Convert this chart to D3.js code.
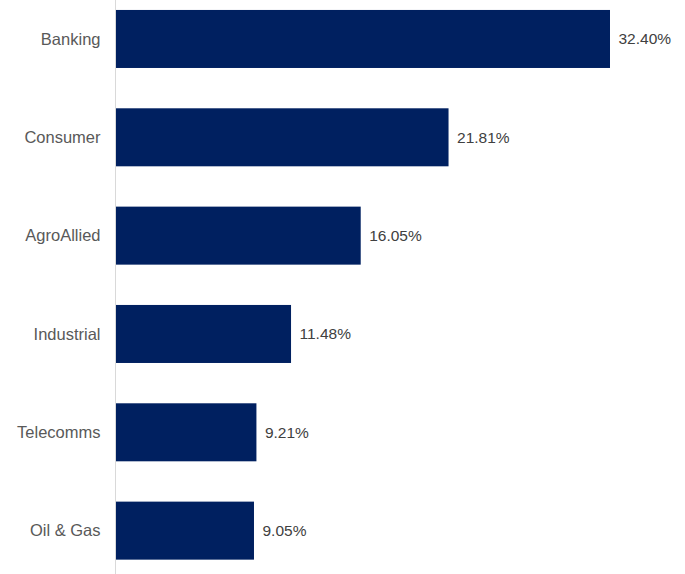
<!DOCTYPE html>
<html>
<head>
<meta charset="utf-8">
<script src="https://cdn.jsdelivr.net/npm/d3@7"></script>
<style>
  html, body { margin: 0; padding: 0; background: #fff; }
  svg { display: block; }
</style>
</head>
<body>
<div id="chart"></div>
<script>
// Sector weights (%)
const sectors = ["Banking", "Consumer", "AgroAllied", "Industrial", "Telecomms", "Oil & Gas"];
const weights = [32.40, 21.81, 16.05, 11.48, 9.21, 9.05];

const width = 685, height = 574;
const axisX = 116;

const svg = d3.select("#chart").append("svg")
  .attr("width", width)
  .attr("height", height)
  .style("font-family", "Arial, 'Liberation Sans', sans-serif");

const x = d3.scaleLinear()
  .domain([0, 32.40])
  .range([axisX, 610]);

const y = d3.scaleBand()
  .domain(sectors)
  .range([-10.2, 579.8])
  .paddingInner(0.41)
  .paddingOuter(0.205);

const data = sectors.map((s, i) => ({ sector: s, value: weights[i] }));

// bars
svg.append("g").selectAll("rect")
  .data(data)
  .join("rect")
  .attr("x", x(0))
  .attr("y", d => y(d.sector))
  .attr("width", d => x(d.value) - x(0))
  .attr("height", y.bandwidth())
  .attr("fill", "#002060");

// category axis line
svg.append("line")
  .attr("x1", axisX - 0.5).attr("x2", axisX - 0.5)
  .attr("y1", 0).attr("y2", height)
  .attr("stroke", "#d9d9d9")
  .attr("stroke-width", 1);

// category labels
svg.append("g").selectAll("text")
  .data(data)
  .join("text")
  .attr("x", axisX - 15.5)
  .attr("y", d => y(d.sector) + y.bandwidth() / 2)
  .attr("dy", "0.35em")
  .attr("text-anchor", "end")
  .attr("font-size", 16.5)
  .attr("fill", "#595959")
  .text(d => d.sector);

// value labels
svg.append("g").selectAll("text")
  .data(data)
  .join("text")
  .attr("x", d => x(d.value) + 8.5)
  .attr("y", d => y(d.sector) + y.bandwidth() / 2)
  .attr("dy", "0.35em")
  .attr("font-size", 15.5)
  .attr("fill", "#404040")
  .text(d => d.value.toFixed(2) + "%");
</script>
</body>
</html>
